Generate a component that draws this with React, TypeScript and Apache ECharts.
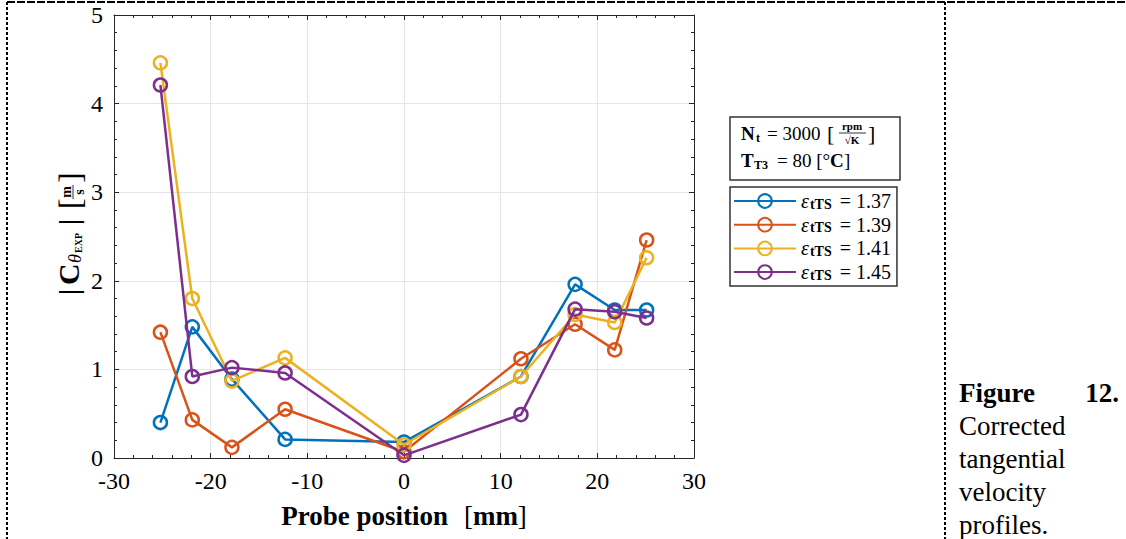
import React, { useEffect, useRef } from 'react';
import * as echarts from 'echarts';

// Probe positions [mm]
const positions = [-25.2, -21.9, -17.8, -12.3, 0, 12.1, 17.7, 21.8, 25.1];
// Pressure ratios (legend)
const ratios = ['1.37', '1.39', '1.41', '1.45'];
// |C_theta_EXP| [m/s]
const c137 = [0.40, 1.48, 0.89, 0.21, 0.18, 0.92, 1.96, 1.67, 1.67];
const c139 = [1.42, 0.43, 0.12, 0.55, 0.07, 1.12, 1.51, 1.22, 2.46];
const c141 = [4.46, 1.80, 0.87, 1.13, 0.15, 0.92, 1.62, 1.53, 2.26];
const c145 = [4.21, 0.92, 1.02, 0.96, 0.03, 0.49, 1.68, 1.65, 1.58];
const seriesValues = [c137, c139, c141, c145];
const colors = ['#0072BD', '#D95319', '#EDB120', '#7E2F8E'];

const captionLines = ['Corrected', 'tangential', 'velocity', 'profiles.'];

const SERIF = '"Liberation Serif", "Times New Roman", serif';
const AXIS = '#262626';

export default function App() {
  const ref = useRef<HTMLDivElement>(null);
  useEffect(() => {
    if (!ref.current) return;
    const chart = echarts.init(ref.current, undefined, { renderer: 'svg' });

    const axisCommon = {
      type: 'value' as const,
      axisLine: { show: true, onZero: false, lineStyle: { color: AXIS, width: 1 } },
      axisTick: { show: true, inside: true, length: 5, lineStyle: { color: AXIS } },
      minorTick: { show: true, splitNumber: 5, length: 3, lineStyle: { color: AXIS } },
    };

    const dash = (x1: number, y1: number, x2: number, y2: number, d: number[]) => ({
      type: 'line',
      shape: { x1, y1, x2, y2 },
      style: { stroke: '#000', lineWidth: 2, lineDash: d },
      silent: true,
    });

    const t = (text: string, x: number, y: number, font: string, align = 'left', extra: any = {}) => ({
      type: 'text',
      x,
      y,
      style: { text, font, fill: '#000', align, verticalAlign: 'middle', ...extra },
      silent: true,
    });

    const option: any = {
      animation: false,
      backgroundColor: '#fff',
      grid: { left: 114, right: 432, top: 15, bottom: 81, containLabel: false },
      xAxis: [
        {
          ...axisCommon,
          min: -30,
          max: 30,
          interval: 10,
          position: 'bottom',
          splitLine: { show: true, lineStyle: { color: '#e6e6e6', width: 1 } },
          axisLabel: { fontSize: 24, fontFamily: SERIF, color: '#000', margin: 11 },
          name: '{b|Probe position}{g|[}{b|mm}{r|]}',
          nameLocation: 'middle',
          nameGap: 44,
          nameTextStyle: {
            rich: {
              b: { fontFamily: SERIF, fontWeight: 'bold', fontSize: 27, color: '#000' },
              g: { fontFamily: SERIF, fontSize: 27, color: '#000', padding: [0, 0, 0, 16] },
              r: { fontFamily: SERIF, fontSize: 27, color: '#000' },
            },
          },
        },
        {
          ...axisCommon,
          min: -30,
          max: 30,
          interval: 10,
          position: 'top',
          splitLine: { show: false },
          axisLabel: { show: false },
        },
      ],
      yAxis: [
        {
          ...axisCommon,
          min: 0,
          max: 5,
          interval: 1,
          position: 'left',
          splitLine: { show: true, lineStyle: { color: '#e6e6e6', width: 1 } },
          axisLabel: { fontSize: 24, fontFamily: SERIF, color: '#000', margin: 11 },
        },
        {
          ...axisCommon,
          min: 0,
          max: 5,
          interval: 1,
          position: 'right',
          splitLine: { show: false },
          axisLabel: { show: false },
        },
      ],
      legend: {
        orient: 'vertical',
        left: 730,
        top: 187,
        itemWidth: 62,
        itemHeight: 17,
        itemGap: 3.7,
        itemTextGap: 8,
        padding: [4, 6, 4, 3],
        borderColor: '#333',
        borderWidth: 1.5,
        backgroundColor: '#fff',
        selectedMode: false,
        data: ratios,
        formatter: (n: string) => `{e|ε}{s|tTS}{v| = ${n}}`,
        textStyle: {
          lineHeight: 20,
          rich: {
            e: { fontFamily: SERIF, fontStyle: 'italic', fontSize: 20, color: '#000', lineHeight: 20 },
            s: {
              fontFamily: SERIF,
              fontWeight: 'bold',
              fontSize: 14,
              color: '#000',
              lineHeight: 14,
              verticalAlign: 'bottom',
              padding: [0, 3, 0, 1],
            },
            v: { fontFamily: SERIF, fontSize: 20, color: '#000', lineHeight: 20 },
          },
        },
      },
      series: seriesValues.map((vals, i) => ({
        name: ratios[i],
        type: 'line',
        xAxisIndex: 0,
        yAxisIndex: 0,
        data: positions.map((x, j) => [x, vals[j]]),
        symbol: 'circle',
        symbolSize: 13,
        lineStyle: { color: colors[i], width: 2.5 },
        itemStyle: { color: 'rgba(255,255,255,0)', borderColor: colors[i], borderWidth: 2.5 },
        emphasis: { disabled: true },
        z: 3 + i,
      })),
      graphic: [
        // dashed page frame
        dash(7, 2, 1126, 2, [8, 2]),
        dash(7, 2, 7, 539, [3, 2]),
        dash(945, 2, 945, 539, [3, 2]),
        // info box
        {
          type: 'rect',
          shape: { x: 730, y: 117, width: 170, height: 63 },
          style: { fill: '#fff', stroke: '#333', lineWidth: 1.5 },
          silent: true,
        },
        t('N', 741, 133, `bold 19px ${SERIF}`),
        t('t', 756, 138, `bold 12px ${SERIF}`),
        t('= 3000', 767, 133, `19px ${SERIF}`),
        t('[', 827, 133, `22px ${SERIF}`),
        t('rpm', 852, 126, `bold 11px ${SERIF}`, 'center'),
        {
          type: 'line',
          shape: { x1: 839, y1: 133, x2: 866, y2: 133 },
          style: { stroke: '#000', lineWidth: 0.8 },
          silent: true,
        },
        t('√K', 852, 140, `bold 11px ${SERIF}`, 'center'),
        t(']', 868, 133, `22px ${SERIF}`),
        t('T', 741, 160, `bold 19px ${SERIF}`),
        t('T3', 754, 165, `bold 12px ${SERIF}`),
        t('= 80 [°', 777, 160, `19px ${SERIF}`),
        t('C', 830, 160, `bold 19px ${SERIF}`),
        t(']', 844, 160, `19px ${SERIF}`),
        // y-axis title (rotated)
        {
          type: 'group',
          x: 68,
          y: 297,
          rotation: Math.PI / 2,
          silent: true,
          children: [
            t('|', 2, 0, `bold 28px ${SERIF}`),
            t('C', 12, 0, `bold 30px ${SERIF}`),
            t('θ', 34, 7, `italic 18px ${SERIF}`),
            t('EXP', 44, 10, `bold 10px ${SERIF}`),
            t('|', 72, 0, `bold 28px ${SERIF}`),
            t('[', 88, 2, `32px ${SERIF}`),
            t('m', 105, -2, `bold 14px ${SERIF}`, 'center'),
            {
              type: 'line',
              shape: { x1: 98, y1: 5, x2: 112, y2: 5 },
              style: { stroke: '#000', lineWidth: 0.8 },
            },
            t('s', 105, 11, `bold 14px ${SERIF}`, 'center'),
            t(']', 114, 2, `32px ${SERIF}`),
          ],
        },
        // caption
        t('Figure', 959, 393, `bold 27px ${SERIF}`),
        t('12.', 1119, 393, `bold 27px ${SERIF}`, 'right'),
        ...captionLines.map((s, i) => t(s, 959, 426 + i * 33, `27px ${SERIF}`)),
      ],
    };

    chart.setOption(option);
    return () => chart.dispose();
  }, []);

  return (
    <div
      ref={ref}
      style={{ position: 'fixed', left: 0, top: 0, width: 1126, height: 539, background: '#fff' }}
    />
  );
}
